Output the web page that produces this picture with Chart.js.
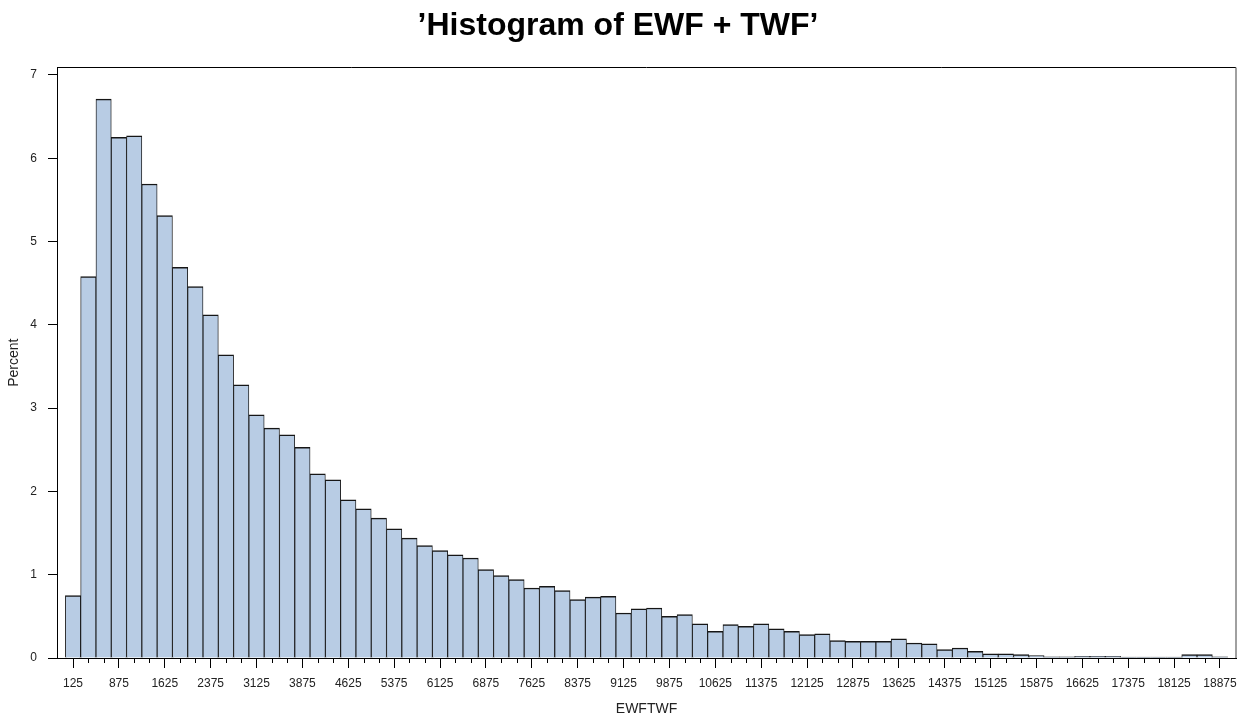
<!DOCTYPE html>
<html>
<head>
<meta charset="utf-8">
<title>Histogram of EWF + TWF</title>
<script src="https://cdn.jsdelivr.net/npm/chart.js@4/dist/chart.umd.min.js"></script>
<style>
  html, body { margin: 0; padding: 0; background: #fff; }
  canvas { display: block; }
</style>
</head>
<body>
<canvas id="hist" width="1247" height="719"></canvas>
<script>
// Bin midpoints of EWFTWF (bin width 250)
const binCenters = [
  125, 375, 625, 875, 1125, 1375, 1625, 1875, 2125, 2375,
  2625, 2875, 3125, 3375, 3625, 3875, 4125, 4375, 4625, 4875,
  5125, 5375, 5625, 5875, 6125, 6375, 6625, 6875, 7125, 7375,
  7625, 7875, 8125, 8375, 8625, 8875, 9125, 9375, 9625, 9875,
  10125, 10375, 10625, 10875, 11125, 11375, 11625, 11875, 12125, 12375,
  12625, 12875, 13125, 13375, 13625, 13875, 14125, 14375, 14625, 14875,
  15125, 15375, 15625, 15875, 16125, 16375, 16625, 16875, 17125, 17375,
  17625, 17875, 18125, 18375, 18625, 18875
];

// Percent of observations falling in each bin
const percents = [
  0.75, 4.58, 6.71, 6.25, 6.27, 5.69, 5.31, 4.69, 4.46, 4.12,
  3.64, 3.28, 2.92, 2.76, 2.68, 2.53, 2.21, 2.14, 1.90, 1.79,
  1.68, 1.55, 1.44, 1.35, 1.29, 1.24, 1.20, 1.06, 0.99, 0.94,
  0.84, 0.86, 0.81, 0.70, 0.73, 0.74, 0.54, 0.59, 0.60, 0.50,
  0.52, 0.41, 0.32, 0.40, 0.38, 0.41, 0.35, 0.32, 0.28, 0.29,
  0.21, 0.20, 0.20, 0.20, 0.23, 0.18, 0.17, 0.10, 0.12, 0.08,
  0.05, 0.05, 0.04, 0.03, 0.015, 0.015, 0.02, 0.02, 0.02, 0.01,
  0.01, 0.01, 0.01, 0.04, 0.04, 0.015
];

// Labelled positions on the horizontal axis
const xTickLabels = [
  125, 875, 1625, 2375, 3125, 3875, 4625, 5375, 6125, 6875,
  7625, 8375, 9125, 9875, 10625, 11375, 12125, 12875, 13625, 14375,
  15125, 15875, 16625, 17375, 18125, 18875
];

// Labelled positions on the vertical axis
const yTickLabels = [0, 1, 2, 3, 4, 5, 6, 7];

Chart.defaults.font.family = "'Liberation Sans', Arial, sans-serif";

// Frame (top / right edges) and short ticks at unlabelled bin midpoints
const framePlugin = {
  id: 'frameAndMinorTicks',
  afterDraw(chart) {
    const { ctx, chartArea: a, scales: { x } } = chart;
    ctx.save();
    ctx.lineWidth = 1;
    ctx.strokeStyle = '#000';
    const top = Math.round(a.top) + 0.5;
    ctx.beginPath();
    ctx.moveTo(a.left, top);
    ctx.lineTo(a.right, top);
    ctx.stroke();

    ctx.strokeStyle = '#808080';
    ctx.lineWidth = 1.5;
    const right = Math.round(a.right);
    ctx.beginPath();
    ctx.moveTo(right, a.top);
    ctx.lineTo(right, a.bottom);
    ctx.stroke();

    ctx.strokeStyle = '#000';
    ctx.lineWidth = 1;
    const base = Math.round(a.bottom);
    binCenters.forEach(v => {
      if (xTickLabels.includes(v)) return;
      const px = Math.round(x.getPixelForValue(v)) + 0.5;
      ctx.beginPath();
      ctx.moveTo(px, base);
      ctx.lineTo(px, base + 5);
      ctx.stroke();
    });
    ctx.restore();
  }
};

new Chart(document.getElementById('hist'), {
  type: 'bar',
  data: {
    datasets: [{
      label: 'Percent',
      data: binCenters.map((c, i) => ({ x: c, y: percents[i] })),
      backgroundColor: '#B8CCE4',
      borderColor: '#161616',
      borderWidth: { top: 1.5, left: 0.9, right: 0.9, bottom: 0 },
      borderSkipped: 'start',
      barPercentage: 1,
      categoryPercentage: 1
    }]
  },
  options: {
    responsive: false,
    animation: false,
    layout: { padding: { top: 0, right: 11, bottom: 0, left: 0 } },
    plugins: {
      legend: { display: false },
      tooltip: { enabled: false },
      title: {
        display: true,
        text: '\u2019Histogram of EWF + TWF\u2019',
        color: '#000',
        font: { size: 32, weight: 'bold' },
        padding: { top: 7, bottom: 22 }
      }
    },
    scales: {
      x: {
        type: 'linear',
        min: -137,
        max: 19137,
        offset: false,
        afterFit(scale) { scale.height = 61; },
        afterBuildTicks(scale) { scale.ticks = xTickLabels.map(v => ({ value: v })); },
        grid: { display: true, offset: false, drawOnChartArea: false, drawTicks: true, tickLength: 10, tickColor: '#000' },
        border: { display: true, color: '#000', width: 1 },
        ticks: {
          autoSkip: false,
          maxRotation: 0,
          minRotation: 0,
          padding: 8,
          color: '#222',
          font: { size: 12 },
          callback: v => String(v)
        },
        title: {
          display: true,
          text: 'EWFTWF',
          color: '#222',
          font: { size: 14 },
          padding: { top: 0, bottom: 1.6 }
        }
      },
      y: {
        min: 0,
        max: 7.09,
        afterFit(scale) { scale.width = 57; },
        afterBuildTicks(scale) { scale.ticks = yTickLabels.map(v => ({ value: v })); },
        grid: { display: true, drawOnChartArea: false, drawTicks: true, tickLength: 9, tickColor: '#000' },
        border: { display: true, color: '#000', width: 1 },
        ticks: {
          padding: 11,
          color: '#222',
          font: { size: 12 }
        },
        title: {
          display: true,
          text: 'Percent',
          color: '#222',
          font: { size: 14 },
          padding: { top: 5.6, bottom: 0 }
        }
      }
    }
  },
  plugins: [framePlugin]
});
</script>
</body>
</html>
